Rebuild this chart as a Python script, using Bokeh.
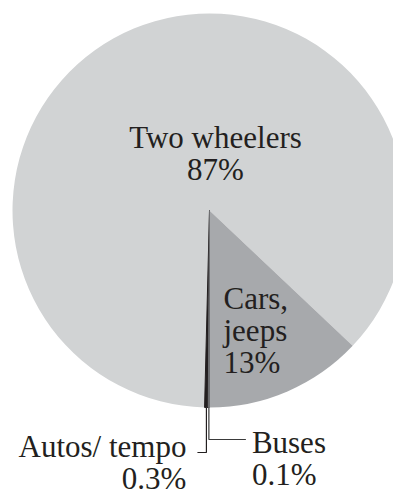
import math
from bokeh.plotting import figure
from bokeh.models import Range1d, ColumnDataSource
from bokeh.core.properties import value
from bokeh.embed import file_html
from bokeh.resources import INLINE

# ---- data ----
categories = ["Two wheelers", "Cars, jeeps", "Autos/ tempo", "Buses"]
label_lines = [["Two wheelers"], ["Cars,", "jeeps"], ["Autos/ tempo"], ["Buses"]]
shares = [87, 13, 0.3, 0.1]
pct_labels = ["87%", "13%", "0.3%", "0.1%"]
colors = ["#d1d3d4", "#a7a9ac", "#231f20", "#6d6e71"]

# ---- layout (pixel scale: 1 data unit = 1 px, y up) ----
W, H = 393, 497
CX, CY = 209, 287
R = 197
FONT = value("Liberation Serif")
FS = "31px"
INK = "#231f20"
LH = 32
TDY = 10   # text baseline correction

p = figure(width=W, height=H, output_backend="svg", toolbar_location=None,
           x_range=Range1d(0, W), y_range=Range1d(0, H), min_border=0)
p.axis.visible = False
p.grid.visible = False
p.outline_line_color = None
p.background_fill_color = "white"
p.border_fill_color = "white"

# order counter-clockwise from straight down: Cars, Two wheelers, Autos, Buses
order = [1, 0, 2, 3]
total = sum(shares)
start = -math.pi / 2
starts, ends, mids = {}, {}, {}
for i in order:
    a = shares[i] / total * 2 * math.pi
    starts[i], ends[i] = start, start + a
    mids[i] = start + a / 2
    start += a

src = ColumnDataSource(dict(
    x=[CX] * 4, y=[CY] * 4,
    s=[starts[i] for i in range(4)], e=[ends[i] for i in range(4)],
    c=colors,
    lc=[None, None, colors[2], colors[3]],
))
p.wedge(x="x", y="y", radius=R, start_angle="s", end_angle="e",
        fill_color="c", line_color="lc", line_width=1, source=src)

def txt(x, y, t, align):
    p.text(x=[x], y=[y + TDY], text=[t], text_font=FONT, text_font_size=FS,
           text_color=INK, text_align=align, text_baseline="alphabetic")

# Two wheelers label (inside)
y0 = CY + 63
for k, t in enumerate(label_lines[0] + [pct_labels[0]]):
    txt(CX + 6, y0 - k * LH, t, "center")

# Cars label (inside)
y0 = CY - 98
for k, t in enumerate(label_lines[1] + [pct_labels[1]]):
    txt(CX + 14, y0 - k * LH, t, "left")

# leader lines for tiny slices
bottom = CY - R
ax = CX + R * math.cos(mids[2])
bx = CX + R * math.cos(mids[3])
ay = bottom - 45
by = bottom - 32
p.line(x=[ax, ax, ax - 9], y=[bottom, ay, ay], line_color=INK, line_width=1.2)
p.line(x=[bx, bx, bx + 37], y=[bottom, by, by], line_color="#3a3a3a", line_width=1.2)

# Autos label (right aligned, left of leader)
y0 = ay - 4
for k, t in enumerate(label_lines[2] + [pct_labels[2]]):
    txt(ax - 20, y0 - k * LH, t, "right")

# Buses label
y0 = by - 13
for k, t in enumerate(label_lines[3] + [pct_labels[3]]):
    txt(bx + 43, y0 - k * LH, t, "left")

open("out.html", "w").write(file_html(p, INLINE))
